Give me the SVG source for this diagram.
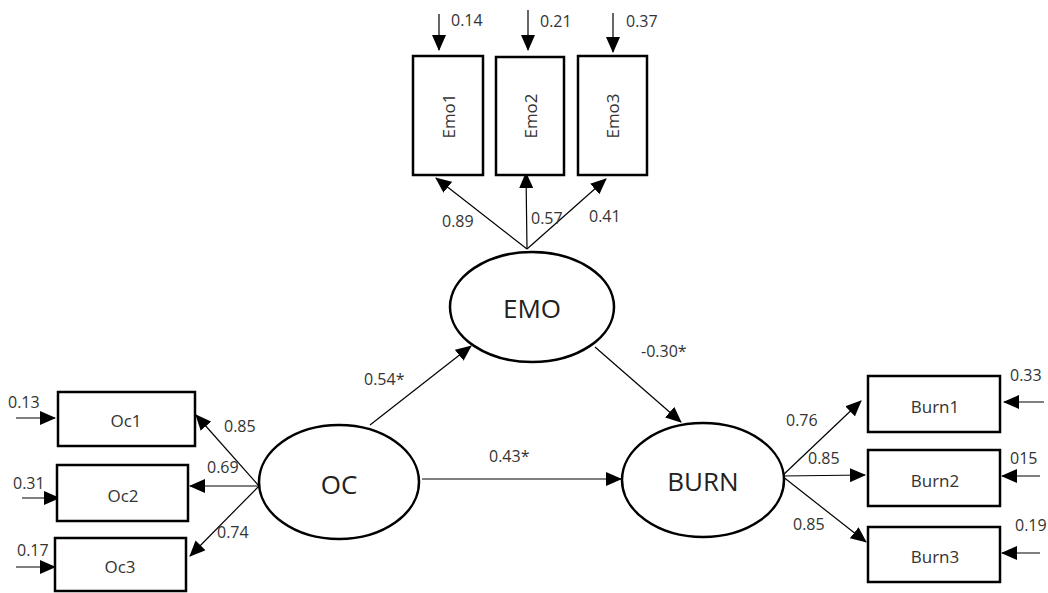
<svg xmlns="http://www.w3.org/2000/svg" width="1048" height="593" viewBox="0 0 1048 593">
<defs>
<marker id="ah" markerUnits="userSpaceOnUse" markerWidth="16" markerHeight="14" viewBox="0 0 16 14" refX="15" refY="7" orient="auto"><path d="M0,0 L16,7 L0,14 Z" fill="#000"/></marker>
</defs>
<style>
.box{fill:#fff;stroke:#000;stroke-width:2.5}
.ell{fill:#fff;stroke:#000;stroke-width:2.5}
.ln{stroke:#000;stroke-width:1.2;fill:none;marker-end:url(#ah)}
.lb{font-family:"Open Sans","DejaVu Sans",sans-serif;font-size:16px;fill:#333}
.nt{font-family:"Open Sans","DejaVu Sans",sans-serif;font-size:17px;fill:#333;text-anchor:middle;dominant-baseline:central}
.lt{font-family:"Open Sans","DejaVu Sans",sans-serif;font-size:26px;fill:#222;text-anchor:middle;dominant-baseline:central}
</style>
<g id="connectors">
<line class="ln" x1="439" y1="14" x2="439" y2="50"/>
<line class="ln" x1="528" y1="10" x2="528" y2="50"/>
<line class="ln" x1="613" y1="13" x2="613" y2="52"/>
<line class="ln" x1="527" y1="249" x2="436" y2="178"/>
<line class="ln" x1="527" y1="249" x2="526" y2="173"/>
<line class="ln" x1="527" y1="249" x2="606" y2="179"/>
<line class="ln" x1="370" y1="425" x2="471" y2="346"/>
<line class="ln" x1="595" y1="347" x2="681" y2="422"/>
<line class="ln" x1="422" y1="479" x2="621" y2="479"/>
<line class="ln" x1="259" y1="486" x2="196" y2="415"/>
<line class="ln" x1="259" y1="486" x2="190" y2="486"/>
<line class="ln" x1="259" y1="486" x2="190" y2="556"/>
<line class="ln" x1="16" y1="418" x2="55" y2="418"/>
<line class="ln" x1="22" y1="498" x2="59" y2="498"/>
<line class="ln" x1="16" y1="567" x2="55" y2="567"/>
<line class="ln" x1="782" y1="476" x2="861" y2="401"/>
<line class="ln" x1="782" y1="476" x2="865" y2="475"/>
<line class="ln" x1="782" y1="476" x2="866" y2="542"/>
<line class="ln" x1="1044" y1="402" x2="1004" y2="402"/>
<line class="ln" x1="1040" y1="476" x2="1002" y2="476"/>
<line class="ln" x1="1040" y1="553" x2="1002" y2="553"/>
<text class="lb" x="451" y="26">0.14</text>
<text class="lb" x="540" y="27">0.21</text>
<text class="lb" x="626" y="27">0.37</text>
<text class="lb" x="442" y="227">0.89</text>
<text class="lb" x="531" y="224">0.57</text>
<text class="lb" x="589" y="222">0.41</text>
<text class="lb" x="364" y="385">0.54*</text>
<text class="lb" x="641" y="357">-0.30*</text>
<text class="lb" x="489" y="462">0.43*</text>
<text class="lb" x="224" y="432">0.85</text>
<text class="lb" x="207" y="473">0.69</text>
<text class="lb" x="217" y="538">0.74</text>
<text class="lb" x="8" y="408">0.13</text>
<text class="lb" x="13" y="489">0.31</text>
<text class="lb" x="17" y="556">0.17</text>
<text class="lb" x="786" y="426">0.76</text>
<text class="lb" x="808" y="464">0.85</text>
<text class="lb" x="793" y="530">0.85</text>
<text class="lb" x="1010" y="381">0.33</text>
<text class="lb" x="1010" y="464">015</text>
<text class="lb" x="1015" y="531">0.19</text>
</g>
<g id="Emo1"><rect class="box" x="413" y="56" width="70" height="119"/><text class="nt" transform="translate(448,116) rotate(-90)">Emo1</text></g>
<g id="Emo2"><rect class="box" x="496" y="57" width="68" height="118"/><text class="nt" transform="translate(530,116) rotate(-90)">Emo2</text></g>
<g id="Emo3"><rect class="box" x="578" y="56" width="69" height="119"/><text class="nt" transform="translate(612,116) rotate(-90)">Emo3</text></g>
<g id="EMO"><ellipse class="ell" cx="532" cy="307" rx="82" ry="55"/><text class="lt" x="532" y="308">EMO</text></g>
<g id="OC"><ellipse class="ell" cx="339" cy="482" rx="80" ry="57"/><text class="lt" x="339" y="484">OC</text></g>
<g id="BURN"><ellipse class="ell" cx="703" cy="480" rx="81" ry="57"/><text class="lt" x="703" y="481">BURN</text></g>
<g id="Oc1"><rect class="box" x="58" y="392" width="137" height="54"/><text class="nt" x="126" y="420">Oc1</text></g>
<g id="Oc2"><rect class="box" x="57" y="465" width="131" height="56"/><text class="nt" x="123" y="495">Oc2</text></g>
<g id="Oc3"><rect class="box" x="55" y="538" width="131" height="53"/><text class="nt" x="120" y="566">Oc3</text></g>
<g id="Burn1"><rect class="box" x="868" y="376" width="132" height="56"/><text class="nt" x="935" y="406">Burn1</text></g>
<g id="Burn2"><rect class="box" x="868" y="450" width="132" height="56"/><text class="nt" x="935" y="480">Burn2</text></g>
<g id="Burn3"><rect class="box" x="868" y="527" width="132" height="55"/><text class="nt" x="935" y="556">Burn3</text></g>
</svg>
